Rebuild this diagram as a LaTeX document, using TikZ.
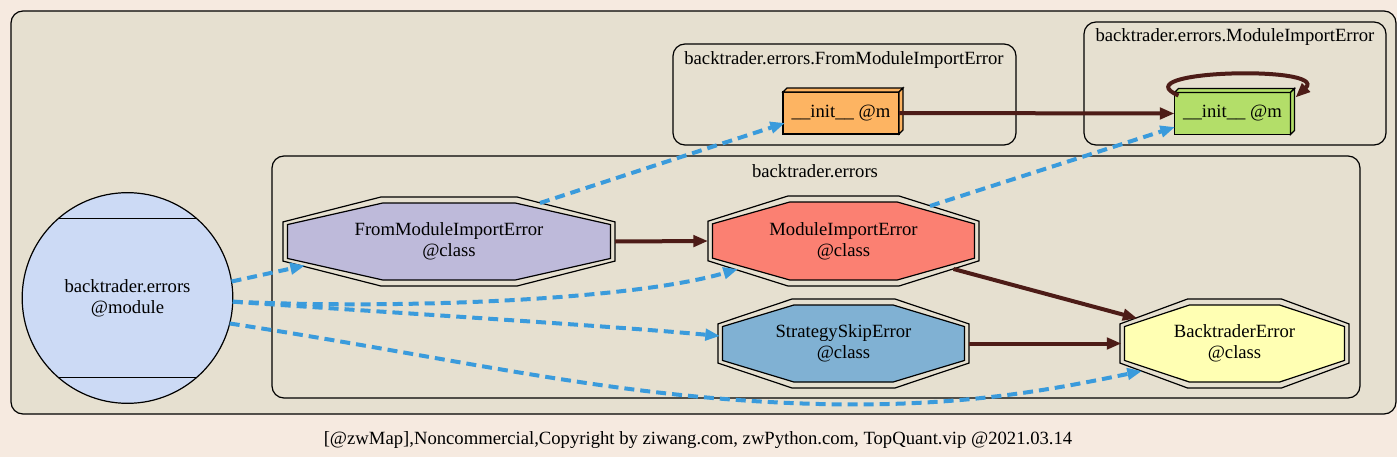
\documentclass[tikz,border=0pt]{standalone}
\usepackage{fontspec}
\setmainfont{Liberation Serif}
\usetikzlibrary{calc,arrows.meta}
\definecolor{pagebg}{HTML}{F6EAE0}
\definecolor{clusterbg}{HTML}{E6E0D0}
\definecolor{modfill}{HTML}{CCDAF5}
\definecolor{edgeblue}{HTML}{3A9BDC}
\definecolor{edgedark}{HTML}{4D1C17}
\definecolor{cpurple}{HTML}{BEBADA}
\definecolor{csalmon}{HTML}{FB8072}
\definecolor{cblue}{HTML}{80B1D3}
\definecolor{cyellow}{HTML}{FFFFB3}
\definecolor{corange}{HTML}{FDB462}
\definecolor{cgreen}{HTML}{B3DE69}
\newcommand\octpoly[5]{%
  \pgfmathsetmacro\octxa{#2-(#4)}\pgfmathsetmacro\octxb{#2-0.41*(#4)}%
  \pgfmathsetmacro\octxc{#2+0.41*(#4)}\pgfmathsetmacro\octxd{#2+(#4)}%
  \pgfmathsetmacro\octya{#3-(#5)}\pgfmathsetmacro\octyb{#3-0.44*(#5)}%
  \pgfmathsetmacro\octyc{#3+0.44*(#5)}\pgfmathsetmacro\octyd{#3+(#5)}%
  \draw[#1] (\octxb,\octya) -- (\octxc,\octya) -- (\octxd,\octyb) -- (\octxd,\octyc)
    -- (\octxc,\octyd) -- (\octxb,\octyd) -- (\octxa,\octyc) -- (\octxa,\octyb) -- cycle;}
\newcommand\dbloct[5]{%
  \octpoly{nodeline}{#1}{#2}{#3}{#4}%
  \octpoly{nodeline,fill=#5}{#1}{#2}{#3-4.5}{#4-6}}
\begin{document}
\begin{tikzpicture}[x=0.75pt,y=-0.75pt,
  font=\fontsize{14}{16}\selectfont,
  cluster/.style={draw=black, line width=0.9pt, fill=clusterbg, rounded corners=9pt},
  nodeline/.style={draw=black, line width=0.9pt},
  lbl/.style={inner sep=0pt, align=center},
  boxthree/.style={draw=black, line width=0.9pt, minimum width=87pt, minimum height=31.5pt, inner sep=0pt, outer sep=0pt},
  dep/.style={draw=edgeblue, line width=3pt, dash pattern=on 7.5pt off 4.5pt, -{Triangle[length=11pt,width=8.5pt]}},
  inh/.style={draw=edgedark, line width=3pt, -{Triangle[length=11pt,width=8.5pt]}}]
\useasboundingbox[fill=pagebg] (0,0) rectangle (1397,457);
% clusters
\draw[cluster] (11,11) rectangle (1396,414);
\draw[cluster] (673,44) rectangle (1016,145);
\draw[cluster] (1084,22) rectangle (1386,145);
\draw[cluster] (272,156) rectangle (1360,398);
\node[lbl] (lfrom) at (844,60) {backtrader.errors.FromModuleImportError};
\node[lbl] (lmod) at (1235,37) {backtrader.errors.ModuleImportError};
\node[lbl] (lerr) at (815,171) {backtrader.errors};
% module node
\node[draw=black, line width=0.9pt, fill=modfill, circle, minimum size=158pt, inner sep=0pt, outer sep=0pt, align=center] (mod) at (127.5,298) {backtrader.errors\\@module};
\draw[nodeline] (mod.131) -- (mod.49);
\draw[nodeline] (mod.-131) -- (mod.-49);
% class nodes
\dbloct{449}{241.5}{166}{44.5}{cpurple}
\node[lbl] (fmie) at (449,241.5) {FromModuleImportError\\@class};
\dbloct{843.5}{241}{135.5}{45}{csalmon}
\node[lbl] (mie) at (843.5,241) {ModuleImportError\\@class};
\dbloct{843.5}{343.5}{125.5}{44.5}{cblue}
\node[lbl] (sse) at (843.5,343.5) {StrategySkipError\\@class};
\dbloct{1234.5}{343.5}{114.5}{44.5}{cyellow}
\node[lbl] (bte) at (1234.5,343.5) {BacktraderError\\@class};
% method nodes
\node[boxthree, fill=corange] (fi) at (841,113) {\_\_init\_\_ @m};
\draw[nodeline, fill=corange] (fi.north west) -- ++(4,-4) -- ([shift={(4,-4)}]fi.north east) -- (fi.north east) -- cycle;
\draw[nodeline, fill=corange] (fi.north east) -- ++(4,-4) -- ([shift={(4,-4)}]fi.south east) -- (fi.south east) -- cycle;
\node[boxthree, fill=cgreen] (mi) at (1232.5,113.5) {\_\_init\_\_ @m};
\draw[nodeline, fill=cgreen] (mi.north west) -- ++(4,-4) -- ([shift={(4,-4)}]mi.north east) -- (mi.north east) -- cycle;
\draw[nodeline, fill=cgreen] (mi.north east) -- ++(4,-4) -- ([shift={(4,-4)}]mi.south east) -- (mi.south east) -- cycle;
% solid edges
\draw[inh] (fi.east) -- (mi.west);
\draw[inh] ($(mi)+(-54,-18)$) .. controls (1120,70) and (1330,65) .. ($(mi)+(63,-16)$);
\draw[inh] ($(fmie)+(166,0)$) -- ($(mie)+(-135.5,0)$);
\draw[inh] ($(mie)+(110,28)$) -- ($(bte)+(-97,-25)$);
\draw[inh] ($(sse)+(125.5,0)$) -- ($(bte)+(-113,0)$);
% dashed edges
\draw[dep] (mod.9) -- ($(fmie)+(-144,24)$);
\draw[dep] (mod.-2) .. controls (420,310) and (640,298) .. ($(mie)+(-105.5,28)$);
\draw[dep] (mod.-2) .. controls (350,310) and (600,325) .. ($(sse)+(-123.5,-7.5)$);
\draw[dep] (mod.-14) .. controls (450,357) and (600,395) .. (790,403) .. controls (950,410) and (1050,390) .. ($(bte)+(-92.5,27.5)$);
\draw[dep] ($(fmie)+(91,-38.5)$) -- ($(fi)+(-56,10)$);
\draw[dep] ($(mie)+(86.5,-35)$) -- ($(mi)+(-57.5,13.5)$);
% caption
\node[lbl] (cap) at (698,440) {[@zwMap],Noncommercial,Copyright by ziwang.com, zwPython.com, TopQuant.vip @2021.03.14};
\end{tikzpicture}
\end{document}
